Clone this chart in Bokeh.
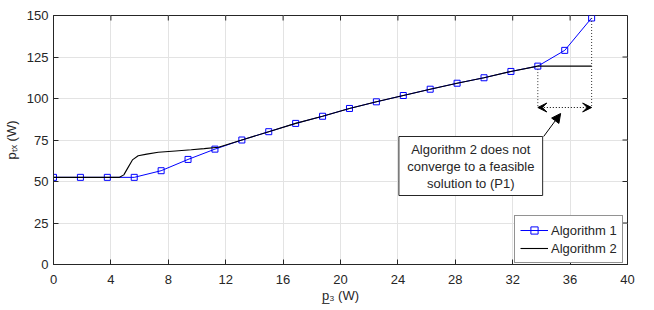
from bokeh.plotting import figure
from bokeh.models import (FixedTicker, Legend, LegendItem,
                          Arrow, NormalHead, VeeHead, Range1d)
from bokeh.embed import file_html
from bokeh.resources import INLINE
from bokeh.core.properties import value

# ---- data ----
alg1_x = [0, 1.875, 3.75, 5.625, 7.5, 9.375, 11.25, 13.125, 15, 16.875, 18.75,
          20.625, 22.5, 24.375, 26.25, 28.125, 30, 31.875, 33.75, 35.625, 37.5]
alg1_y = [52.5, 52.5, 52.5, 52.5, 56.5, 63.3, 69.5, 75.0, 80.0, 85.0, 89.3,
          94.0, 98.0, 101.8, 105.6, 109.2, 112.5, 116.3, 119.5, 129.0, 148.5]
alg2_x = [0, 4.6, 4.9, 5.2, 5.5, 5.9, 6.5, 7.3, 8.5, 9.6, 10.5, 11.5, 13.125, 15,
          16.875, 18.75, 20.625, 22.5, 24.375, 26.25, 28.125, 30, 31.875, 33.75, 37.5]
alg2_y = [52.5, 52.5, 54.0, 58.5, 63.0, 65.5, 66.5, 67.6, 68.4, 69.1, 69.8, 70.6,
          75.0, 80.0, 85.0, 89.3, 94.0, 98.0, 101.8, 105.6, 109.2, 112.5, 116.3,
          119.5, 119.5]
x_ticks = [0, 4, 8, 12, 16, 20, 24, 28, 32, 36, 40]
y_ticks = [0, 25, 50, 75, 100, 125, 150]
series_names = ["Algorithm 1", "Algorithm 2"]
note_lines = ["Algorithm 2 does not", "converge to a feasible", "solution to (P1)"]
x_title = "p\u0332\u2083 (W)"
y_title = "p\u209c\u2093 (W)"

FONT = "Liberation Sans"
DARK = "#262626"
X0, X1, Y0, Y1 = 0, 40, 0, 150

# page pixel -> data helpers (frame: 575 x 249 px at page (52, 15))
PXX = 575 / (X1 - X0)
PXY = 249 / (Y1 - Y0)
def dx(px):
    return (px - 52) / PXX
def dy(py):
    return (264 - py) / PXY

p = figure(width=654, height=310,
           min_border_left=52, min_border_right=27, min_border_top=15, min_border_bottom=46,
           x_range=Range1d(X0, X1), y_range=Range1d(Y0, Y1),
           output_backend="svg", toolbar_location=None)
p.background_fill_color = "white"
p.border_fill_color = "white"
p.outline_line_color = DARK
p.outline_line_width = 1

for ax in (p.xaxis[0], p.yaxis[0]):
    ax.major_tick_in = 5
    ax.major_tick_out = 0
    ax.minor_tick_line_color = None
    ax.axis_line_color = DARK
    ax.major_tick_line_color = DARK
    ax.major_label_text_font = FONT
    ax.major_label_text_font_size = "13px"
    ax.major_label_text_color = DARK
    ax.axis_label_text_font = FONT
    ax.axis_label_text_font_size = "13px"
    ax.axis_label_text_font_style = "normal"
    ax.axis_label_text_color = DARK
p.xaxis[0].ticker = FixedTicker(ticks=x_ticks)
p.yaxis[0].ticker = FixedTicker(ticks=y_ticks)
p.xaxis[0].major_label_standoff = 10
p.yaxis[0].major_label_standoff = 5
p.xaxis[0].axis_label = x_title
p.yaxis[0].axis_label = y_title
p.xaxis[0].axis_label_standoff = 1
p.yaxis[0].axis_label_standoff = 5

p.xgrid.ticker = FixedTicker(ticks=x_ticks)
p.ygrid.ticker = FixedTicker(ticks=y_ticks)
p.xgrid.grid_line_color = "#e3e3e3"
p.ygrid.grid_line_color = "#e3e3e3"

# inward ticks on the top and right edges of the box
TL = 5
p.segment(x0=x_ticks, y0=[Y1] * len(x_ticks), x1=x_ticks,
          y1=[Y1 - TL / PXY] * len(x_ticks), line_color=DARK, line_width=1)
p.segment(x0=[X1] * len(y_ticks), y0=y_ticks, x1=[X1 - TL / PXX] * len(y_ticks),
          y1=y_ticks, line_color=DARK, line_width=1)

# series
l1 = p.line(alg1_x, alg1_y, line_color="#0000ff", line_width=1)
s1 = p.scatter(alg1_x, alg1_y, marker="square", size=6, fill_color=None,
               line_color="#0000ff", line_width=1)
l2 = p.line(alg2_x, alg2_y, line_color="black", line_width=1.1)

# dotted guides
p.line([alg1_x[18], alg1_x[18]], [alg1_y[18], dy(107)], line_color="#333333",
       line_dash="1 2", line_width=1)
p.line([alg1_x[20], alg1_x[20]], [alg1_y[20], dy(107)], line_color="#333333",
       line_dash="1 2", line_width=1)
p.add_layout(Arrow(start=VeeHead(size=9, fill_color="black", line_color="black"),
                   end=VeeHead(size=9, fill_color="black", line_color="black"),
                   x_start=alg1_x[18], y_start=dy(107), x_end=alg1_x[20], y_end=dy(107),
                   line_color="black", line_dash="1 2", line_width=1))

# note box
p.quad(left=dx(398), right=dx(542), top=dy(136), bottom=dy(195),
       fill_color="white", line_color=DARK, line_width=1)
p.text(x=[dx(470)] * 3, y=[dy(149), dy(165.7), dy(182.7)], text=note_lines,
       text_align="center", text_baseline="middle", text_font=value(FONT),
       text_font_size="13px", text_color=DARK)
p.add_layout(Arrow(end=NormalHead(size=9, fill_color="black", line_color="black"),
                   x_start=dx(543), y_start=dy(136), x_end=dx(560), y_end=dy(113),
                   line_color="black", line_width=1))

# legend
legend = Legend(items=[LegendItem(label=series_names[0], renderers=[l1, s1]),
                       LegendItem(label=series_names[1], renderers=[l2])],
                location=(461, 1), margin=0, padding=5, spacing=0,
                label_height=18, glyph_height=18, glyph_width=28, label_standoff=3,
                label_text_font=FONT, label_text_font_size="13px", label_text_color=DARK,
                border_line_color=DARK, border_line_width=1, background_fill_alpha=1)
p.add_layout(legend)

open("out.html", "w").write(file_html(p, INLINE))
